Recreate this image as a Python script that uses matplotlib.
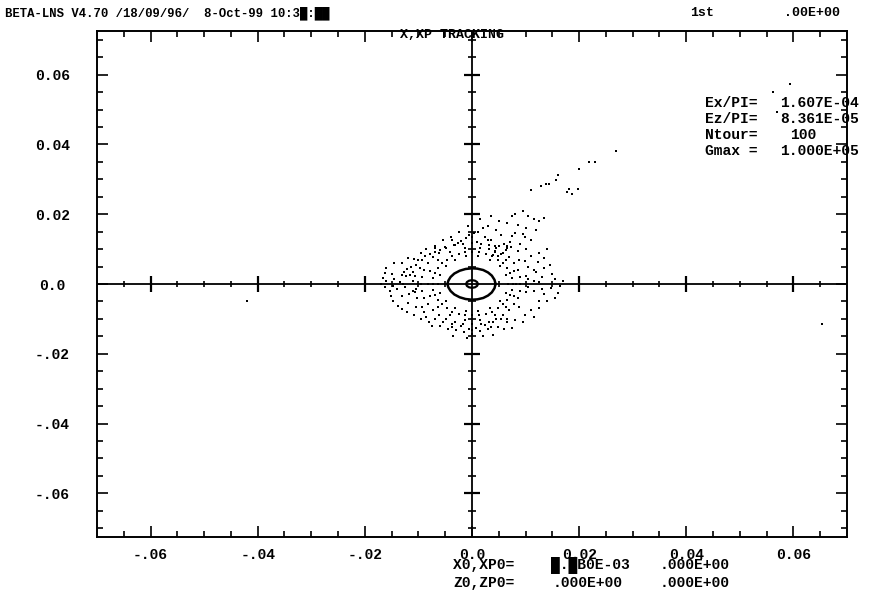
import matplotlib
matplotlib.use("Agg")
import matplotlib.pyplot as plt
import numpy as np

# phase-space points, in units of 1e-3 (x, xp)
core_loop = [(1.1, 0), (0.95, 0.55), (0.55, 0.95), (0, 1.1), (-0.55, 0.95), (-0.95, 0.55),
             (-1.1, 0), (-0.95, -0.55), (-0.55, -0.95), (0, -1.1), (0.55, -0.95), (0.95, -0.55),
             (1.1, 0)]
inner_ellipse = [(4.4, 0), (4.2, 1.2), (3.7, 2.4), (3.0, 3.3), (2.1, 4.0), (1.0, 4.4), (0, 4.5),
                 (-1.2, 4.3), (-2.3, 3.8), (-3.3, 3.0), (-4.0, 2.0), (-4.4, 1.0), (-4.6, 0),
                 (-4.4, -1.0), (-4.0, -2.0), (-3.3, -3.0), (-2.3, -3.8), (-1.2, -4.3), (0, -4.5),
                 (1.0, -4.4), (2.1, -4.0), (3.0, -3.3), (3.7, -2.4), (4.2, -1.2), (4.4, 0)]
ring_1 = [(6.8, 0), (6.4, 2.7), (5.2, 5.1), (3.4, 6.9), (1.2, 7.9), (-1.1, 7.9), (-3.2, 6.9),
          (-4.8, 5.1), (-5.9, 2.7), (-6.3, 0), (-5.9, -2.7), (-4.8, -5.0), (-3.2, -6.8),
          (-1.1, -7.7), (1.2, -7.7), (3.4, -6.8), (5.2, -5.0), (6.4, -2.7)]
ring_2 = [(7.6, 0), (7.1, 3.2), (5.8, 6.0), (3.8, 8.1), (1.3, 9.2), (-1.3, 9.2), (-3.7, 8.1),
          (-5.6, 6.0), (-6.9, 3.2), (-7.3, 0), (-6.9, -3.1), (-5.6, -5.8), (-3.7, -7.9),
          (-1.3, -9.0), (1.3, -9.0), (3.8, -7.9), (5.8, -5.8), (7.1, -3.1),
          (7.5, 1.6), (6.6, 4.6), (4.9, 7.0), (2.6, 8.6), (0, 9.2), (-2.5, 8.6), (-4.7, 7.0),
          (-6.3, 4.6), (-7.2, 1.6), (-7.2, -1.6), (-6.3, -4.5), (-4.7, -6.9), (-2.5, -8.5),
          (0, -9.0), (2.6, -8.5), (4.9, -6.9), (6.6, -4.5), (7.5, -1.6)]
ring_3 = [(8.3, 0), (7.8, 3.6), (6.4, 6.8), (4.2, 9.2), (1.4, 10.4), (-1.4, 10.4), (-4.2, 9.2),
          (-6.4, 6.8), (-7.8, 3.6), (-8.3, 0), (-7.8, -3.5), (-6.4, -6.6), (-4.2, -9.0),
          (-1.4, -10.2), (1.4, -10.2), (4.2, -9.0), (6.4, -6.6), (7.8, -3.5)]
ring_4 = [(9.0, 0), (8.5, 4.0), (6.9, 7.6), (4.5, 10.2), (1.6, 11.6), (-1.6, 11.6), (-4.8, 10.2),
          (-7.3, 7.6), (-8.9, 4.0), (-9.5, 0), (-8.9, -4.0), (-7.3, -7.4), (-4.8, -10.0),
          (-1.6, -11.4), (1.6, -11.4), (4.5, -10.0), (6.9, -7.4), (8.5, -4.0),
          (8.9, 2.1), (7.8, 5.9), (5.8, 9.0), (3.1, 11.1), (0, 11.8), (-3.2, 11.1), (-6.1, 9.0),
          (-8.2, 5.9), (-9.4, 2.1), (-9.4, -2.0), (-8.2, -5.8), (-6.1, -8.8), (-3.2, -10.9),
          (0, -11.6), (3.1, -10.9), (5.8, -8.8), (7.8, -5.8), (8.9, -2.0)]
ring_5 = [(10.0, 2.3), (8.8, 6.8), (6.6, 10.3), (3.5, 12.7), (0, 13.5), (-3.7, 12.7), (-6.9, 10.3),
          (-9.4, 6.8), (-10.6, 2.3), (-10.6, -2.3), (-9.4, -6.6), (-6.9, -10.0), (-3.7, -12.4),
          (0, -13.2), (3.5, -12.4), (6.6, -10.0), (8.8, -6.6), (10.0, -2.3)]
scattered = [
    (9.5, 21.0), (8.0, 20.0), (7.5, 19.6), (11.5, 18.5), (12.5, 18.0), (13.5, 19.0), (6.5, 17.5),
    (10.0, 16.0), (8.0, 14.5), (7.5, 13.8), (9.8, 13.5), (9.5, 14.2), (7.0, 12.0), (6.0, 11.5),
    (6.6, 11.0), (7.3, 10.5), (6.3, 9.8), (5.0, 11.0), (4.2, 11.0), (3.2, 10.0), (4.2, 9.5),
    (5.5, 8.5), (4.9, 8.0), (3.9, 8.2), (3.0, 16.5), (2.0, 16.0), (1.2, 15.0), (0.4, 14.5),
    (-0.5, 14.0), (-1.1, 13.2), (-2.0, 12.3), (-2.6, 11.8), (-3.3, 11.2), (-5.0, 10.5),
    (-6.0, 9.6), (-7.0, 9.2), (-7.8, 8.6), (-8.8, 7.9), (-10.0, 7.0), (-10.8, 7.2), (-11.4, 5.0),
    (-12.2, 4.2), (-12.7, 3.5), (-13.0, 2.5), (-12.4, 2.2), (-11.5, 2.5), (-13.0, 6.0),
    (-16.0, 4.5), (-16.3, 3.2), (-16.6, 1.8), (-16.0, 0.9), (-16.9, 0.0), (-16.3, -1.0),
    (-15.4, -2.0), (-15.1, -3.4), (-14.8, -4.8), (-13.9, -6.2), (-13.0, -7.1), (-12.1, -8.0),
    (-10.9, -9.0), (-9.6, -10.0), (-8.0, -10.8), (-6.0, -12.0), (-4.5, -12.8), (-3.0, -13.2),
    (-1.5, -13.8), (0.0, -14.2), (1.5, -13.6), (3.0, -13.0), (4.8, -12.2), (6.5, -11.0),
    (8.0, -10.2), (9.8, -9.0), (11.0, -7.5), (12.5, -5.0), (13.5, -3.0), (14.8, -1.2),
    (16.5, -0.6), (17.0, 1.0), (15.5, 1.5), (13.0, 2.0), (12.5, 0.5), (11.5, 0.8), (10.5, 1.3),
    (12.0, 3.5), (13.5, 4.5), (14.5, 5.5), (12.3, 6.2), (11.0, 8.0), (15.0, 3.0), (16.0, -2.5),
    (10.5, -1.0), (11.5, -2.0), (13.0, -1.5), (-11.0, 1.0), (-10.5, -1.5), (-11.8, -3.0),
    (-12.5, -1.0), (-10.2, -4.0), (-13.5, 0.5), (-14.5, 1.5), (-14.0, -1.5), (-9.8, 4.5),
    (-11.0, 3.5), (-5.5, -11.0), (2.5, -11.8), (-2.0, -12.0), (5.5, -10.0), (0.8, -12.6),
    (1.5, 18.5), (3.5, 19.5), (5.0, 18.0), (4.5, 15.5), (2.5, 13.5), (5.5, 14.0), (8.5, 17.0),
    (10.5, 19.5), (12.0, 15.5), (11.0, 12.5), (9.0, 11.5), (8.5, 9.5), (10.0, 10.0), (3.0, 12.5),
    (1.0, 12.0), (-0.8, 16.5), (-2.5, 15.0), (-4.0, 13.5), (-5.5, 12.5), (-7.0, 11.0),
    (-8.5, 10.0), (-9.5, 9.0), (-12.0, 7.5), (-14.5, 6.0), (-15.0, 3.0), (-14.8, -0.5),
    (-13.0, -3.5), (-12.0, -5.5), (-10.5, -6.5), (-9.0, -8.0), (-7.5, -12.0), (-3.5, -14.8),
    (-1.0, -15.5), (2.0, -15.0), (4.0, -14.5), (6.0, -13.0), (7.5, -12.5), (9.5, -11.0),
    (11.5, -9.5), (12.5, -7.0), (14.0, -5.0), (15.5, -4.0), (13.5, 7.5), (12.5, 9.0),
    (14.0, 10.0), (10.5, 5.0), (11.5, 4.0), (9.8, 6.5), (-0.5, -12.8), (-3.8, -11.5),
    (4.0, -11.0), (-8.5, -9.5), (-10.5, 5.5), (-12.8, 0.0), (-11.0, -2.0),
    # tail towards upper right
    (11.0, 26.8), (12.9, 28.2), (13.8, 28.7), (14.4, 28.7), (15.7, 29.8), (16.0, 31.2),
    (17.7, 26.5), (18.1, 27.3), (18.7, 25.9), (19.8, 27.3), (20.0, 32.9), (21.8, 34.9),
    (22.9, 34.9), (26.9, 38.2), (56.2, 54.9), (59.3, 57.2), (56.9, 49.4),
    # strays
    (-42.0, -5.0), (65.3, -11.4),
]

x_major = [-0.06, -0.04, -0.02, 0.0, 0.02, 0.04, 0.06]
x_labels = ['-.06', '-.04', '-.02', '0.0', '0.02', '0.04', '0.06']
y_major = [-0.06, -0.04, -0.02, 0.0, 0.02, 0.04, 0.06]
y_labels = ['-.06', '-.04', '-.02', '0.0', '0.02', '0.04', '0.06']

# run parameters printed on the plot
beam_names = ['Ex/PI=', 'Ez/PI=', 'Ntour=', 'Gmax =']
beam_values = ['1.607E-04', '8.361E-05', '100', '1.000E+05']
start_names = ['X0,XP0=', 'Z0,ZP0=']
start_values = [['\u2588.\u2588B0E-03', '.000E+00'], ['.000E+00', '.000E+00']]

mono = ['Liberation Mono', 'DejaVu Sans Mono']
plt.rcParams['font.family'] = mono
plt.rcParams['font.weight'] = 'bold'

fig = plt.figure(figsize=(8.74, 5.94), dpi=100)
ax = fig.add_axes([97 / 874, 57 / 594, 750 / 874, 506 / 594])
ax.set_xlim(-0.07, 0.07)
ax.set_ylim(-0.0725, 0.0725)

def pts(seq):
    a = np.array(seq, dtype=float) * 1e-3
    return a[:, 0], a[:, 1]

# axis cross through the origin, with its own ticks
ax.axhline(0, color='k', lw=1.3, zorder=2)
ax.axvline(0, color='k', lw=1.3, zorder=2)
x_minor = np.arange(-0.065, 0.0651, 0.005)
y_minor = np.arange(-0.07, 0.0701, 0.005)
xm = [v for v in x_minor if abs(v) > 1e-9]
ym = [v for v in y_minor if abs(v) > 1e-9]
xM = [v for v in x_major if v != 0]
yM = [v for v in y_major if v != 0]
ax.plot(xm, np.zeros(len(xm)), ls='none', marker='|', ms=5, mew=1.2, color='k')
ax.plot(xM, np.zeros(len(xM)), ls='none', marker='|', ms=11, mew=1.6, color='k')
ax.plot(np.zeros(len(ym)), ym, ls='none', marker='_', ms=6, mew=1.2, color='k')
ax.plot(np.zeros(len(yM)), yM, ls='none', marker='_', ms=11, mew=1.6, color='k')

# tracking data
x, y = pts(core_loop)
ax.plot(x, y, color='k', lw=1.6)
x, y = pts(inner_ellipse)
ax.plot(x, y, color='k', lw=1.8)
for ring in (ring_1, ring_2, ring_3, ring_4, ring_5):
    x, y = pts(ring)
    ax.plot(x, y, ls='none', marker='s', ms=1.6, mew=0, color='k')
x, y = pts(scattered)
ax.plot(x, y, ls='none', marker='s', ms=1.6, mew=0, color='k')

# frame ticks
ax.set_xticks(x_major)
ax.set_xticks(x_minor, minor=True)
ax.set_yticks(y_major)
ax.set_yticks(y_minor, minor=True)
ax.set_xticklabels(x_labels, fontsize=10.5, fontweight='bold')
ax.set_yticklabels(y_labels, fontsize=10.5, fontweight='bold', ha='center')
ax.tick_params(which='both', direction='in', top=True, right=True, width=1.2)
ax.tick_params(which='major', length=8)
ax.tick_params(which='minor', length=4)
ax.tick_params(axis='x', pad=8)
ax.tick_params(axis='y', pad=32)
for s in ax.spines.values():
    s.set_linewidth(1.4)

def ftext(px, py, s, size=10.5, **kw):
    fig.text(px / 874, 1 - py / 594, s, fontsize=size, fontweight='bold', va='center', **kw)

ftext(5, 13, 'BETA-LNS V4.70 /18/09/96/  8-Oct-99 10:3\u2588:\u2588\u2588', size=8.8)
ftext(690, 13, '1st', size=9.5)
ftext(840, 13, '.00E+00', size=9.5, ha='right')
ftext(452, 35, 'X,XP TRACKING', size=9.5, ha='center')
for i, (name, val) in enumerate(zip(beam_names, beam_values)):
    ftext(705, 103 + 16 * i, name)
    ftext(790 if name == 'Ntour=' else 780, 103 + 16 * i, val)
for i, (name, vals) in enumerate(zip(start_names, start_values)):
    ftext(453, 565 + 18 * i, name)
    ftext(551 if i == 0 else 553, 565 + 18 * i, vals[0])
    ftext(660, 565 + 18 * i, vals[1])

fig.savefig('out.png', dpi=100)
